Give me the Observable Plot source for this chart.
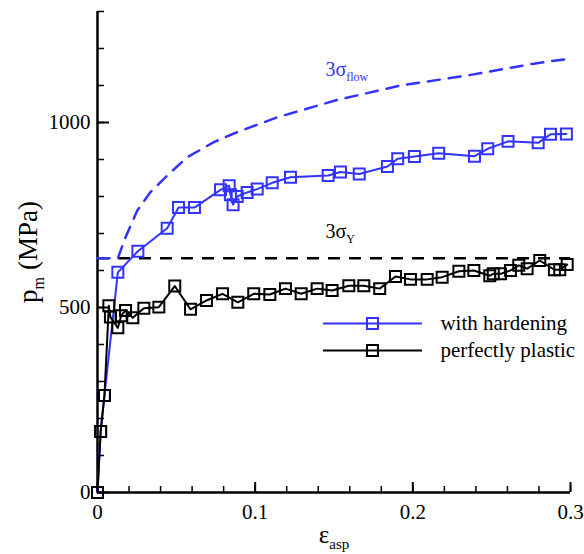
<!DOCTYPE html>
<html>
<head>
<meta charset="utf-8">
<script src="https://cdn.jsdelivr.net/npm/d3@7"></script>
<script src="https://cdn.jsdelivr.net/npm/@observablehq/plot@0.6"></script>
<style>
  html, body { margin: 0; padding: 0; background: white; }
  #chart svg, #chart svg text { font-family: "Liberation Serif", "Times New Roman", serif !important; }
</style>
</head>
<body>
<div id="chart"></div>
<script>
// ---- data ----
const hardeningStrain = [0, 0.002, 0.0044, 0.0129, 0.0256, 0.0442, 0.0514, 0.0615, 0.078, 0.0835, 0.0843, 0.086, 0.0886, 0.0949, 0.1013, 0.1108, 0.1224, 0.1463, 0.1541, 0.166, 0.1839, 0.1904, 0.201, 0.2164, 0.2391, 0.2475, 0.2604, 0.2795, 0.2873, 0.2974];
const hardeningPressure = [0, 165, 262, 595, 652, 714, 770, 770, 818, 829, 805, 778, 800, 811, 820, 837, 852, 857, 866, 861, 881, 902, 908, 917, 909, 929, 949, 945, 968, 969];

const plasticStrain = [0, 0.002, 0.0044, 0.0072, 0.0082, 0.0129, 0.015, 0.0178, 0.0224, 0.0294, 0.0389, 0.049, 0.059, 0.0691, 0.0793, 0.089, 0.0991, 0.1093, 0.1192, 0.1292, 0.1393, 0.1488, 0.1594, 0.1689, 0.179, 0.189, 0.1985, 0.2091, 0.2186, 0.2292, 0.2387, 0.2488, 0.251, 0.2556, 0.2619, 0.2672, 0.2725, 0.2805, 0.2898, 0.2932, 0.2979];
const plasticPressure = [0, 165, 262, 505, 474, 445, 478, 492, 472, 498, 501, 558, 495, 519, 537, 514, 537, 535, 551, 537, 551, 546, 559, 559, 551, 584, 576, 576, 582, 598, 600, 586, 591, 591, 600, 614, 605, 627, 602, 602, 616];

const flowStrain = [0, 0.0129, 0.0178, 0.0252, 0.0336, 0.0443, 0.0569, 0.0738, 0.0886, 0.114, 0.152, 0.1922, 0.2345, 0.2767, 0.3];
const flowPressure = [633, 633, 690, 762, 812, 857, 906, 947, 974, 1014, 1061, 1100, 1127, 1159, 1173];

const yieldPressure = 633;

const xMajorTicks = [0, 0.1, 0.2, 0.3];
const xMinorTicks = d3.range(0, 31, 2).map(d => d / 100);
const yMajorTicks = [0, 500, 1000];
const yMinorTicks = d3.range(0, 1301, 100);

const seriesNames = ["with hardening", "perfectly plastic"];
const curveLabels = ["3σ_{flow}", "3σ_{Y}"];

// ---- build tables ----
const hardening = hardeningStrain.map((x, i) => ({x, y: hardeningPressure[i]}));
const plastic = plasticStrain.map((x, i) => ({x, y: plasticPressure[i]}));
const flow = flowStrain.map((x, i) => ({x, y: flowPressure[i]}));

// ---- layout / styles ----
const blue = "#3333ff";
const serif = "'Liberation Serif', 'Times New Roman', serif";
const legend = {x1: 0.1433, x2: 0.2061, xMark: 0.1744, xText: 0.2175, y: [457, 384]};
const labelPos = {x: 0.1446, yFlow: 1143, yYield: 705};

const sq = {symbol: "square", r: 6.2, fill: "none", strokeWidth: 2};

const plot = Plot.plot({
  width: 584,
  height: 554,
  marginLeft: 97,
  marginRight: 14,
  marginTop: 11,
  marginBottom: 62,
  x: {domain: [0, 0.3]},
  y: {domain: [0, 1300]},
  style: {fontFamily: serif, fontSize: "21px", color: "black", background: "white"},
  marks: [
    // axes (ticks drawn inward)
    Plot.axisY(yMinorTicks, {tickSize: 7, dx: 7, tickFormat: () => "", strokeWidth: 1.5, label: null}),
    Plot.axisY(yMajorTicks, {tickSize: 12, dx: 12, tickFormat: () => "", strokeWidth: 2, label: null}),
    Plot.axisY(yMajorTicks, {tickSize: 0, tickPadding: 7, tickFormat: d => String(d), fontSize: 21, fontFamily: serif, label: null}),
    Plot.axisX(xMinorTicks, {tickSize: 6, dy: -6, tickFormat: () => "", strokeWidth: 1.5, label: null}),
    Plot.axisX(xMajorTicks, {tickSize: 10, dy: -10, tickFormat: () => "", strokeWidth: 2, label: null}),
    Plot.axisX(xMajorTicks, {tickSize: 0, tickPadding: 12, tickFormat: d => String(d), fontSize: 21, fontFamily: serif, label: null}),
    Plot.ruleX([0], {strokeWidth: 2.5}),
    Plot.ruleY([0], {strokeWidth: 2.5}),

    // reference curves
    Plot.ruleY([yieldPressure], {stroke: "black", strokeWidth: 2.5, strokeDasharray: "12,9"}),
    Plot.line(flow, {x: "x", y: "y", stroke: blue, strokeWidth: 2.5, strokeDasharray: "12,9"}),

    // series
    Plot.line(hardening, {x: "x", y: "y", stroke: blue, strokeWidth: 2}),
    Plot.dot(hardening, {x: "x", y: "y", stroke: blue, ...sq}),
    Plot.line(plastic, {x: "x", y: "y", stroke: "black", strokeWidth: 2}),
    Plot.dot(plastic, {x: "x", y: "y", stroke: "black", ...sq}),

    // curve labels
    Plot.text([curveLabels[0]], {x: labelPos.x, y: labelPos.yFlow, text: d => d, fill: blue, textAnchor: "start", fontSize: 20, fontFamily: serif}),
    Plot.text([curveLabels[1]], {x: labelPos.x, y: labelPos.yYield, text: d => d, fill: "black", textAnchor: "start", fontSize: 20, fontFamily: serif}),

    // legend
    Plot.ruleY([legend.y[0]], {x1: legend.x1, x2: legend.x2, stroke: blue, strokeWidth: 2}),
    Plot.dot([legend.y[0]], {x: legend.xMark, y: d => d, stroke: blue, ...sq}),
    Plot.text([seriesNames[0]], {x: legend.xText, y: legend.y[0], text: d => d, textAnchor: "start", fontSize: 21, fontFamily: serif}),
    Plot.ruleY([legend.y[1]], {x1: legend.x1, x2: legend.x2, stroke: "black", strokeWidth: 2}),
    Plot.dot([legend.y[1]], {x: legend.xMark, y: d => d, stroke: "black", ...sq}),
    Plot.text([seriesNames[1]], {x: legend.xText, y: legend.y[1], text: d => d, textAnchor: "start", fontSize: 21, fontFamily: serif}),

    // axis titles
    Plot.text(["ε_{asp}"], {frameAnchor: "bottom", dy: 50, text: d => d, fontSize: 25, textAnchor: "middle", fontFamily: serif}),
    Plot.text(["p_{m} (MPa)"], {frameAnchor: "left", dx: -69, rotate: -90, text: d => d, fontSize: 27, textAnchor: "middle", fontFamily: serif})
  ]
});

// render "_{...}" as subscripts using tspans
plot.querySelectorAll("text").forEach(t => {
  const m = t.textContent.match(/^(.*?)_\{(.*?)\}(.*)$/);
  if (!m) return;
  t.textContent = "";
  const ns = "http://www.w3.org/2000/svg";
  const a = document.createElementNS(ns, "tspan");
  a.textContent = m[1];
  const b = document.createElementNS(ns, "tspan");
  b.textContent = m[2];
  b.setAttribute("font-size", "0.6em");
  b.setAttribute("dy", "0.42em");
  t.appendChild(a);
  t.appendChild(b);
  if (m[3]) {
    const c = document.createElementNS(ns, "tspan");
    c.textContent = m[3];
    c.setAttribute("dy", "-0.25em");
    t.appendChild(c);
  }
});

document.getElementById("chart").appendChild(plot);
</script>
</body>
</html>
